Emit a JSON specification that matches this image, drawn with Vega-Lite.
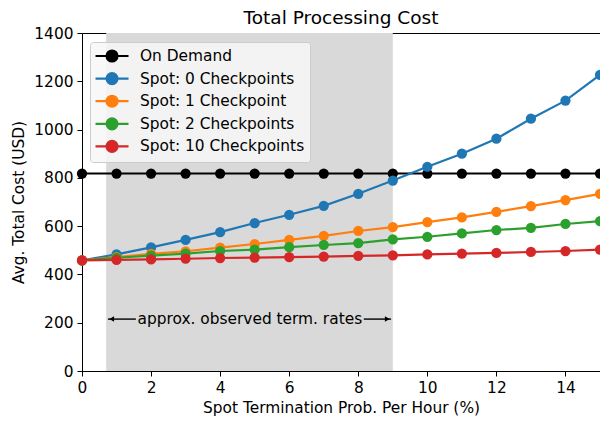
{
  "$schema": "https://vega.github.io/schema/vega-lite/v6.json",
  "width": 518,
  "height": 338,
  "autosize": {"type": "none"},
  "padding": {"left": 82, "top": 33, "right": 0, "bottom": 51},
  "background": "white",
  "title": {"text": "Total Processing Cost", "font": "DejaVu Sans", "fontSize": 18.5, "fontWeight": "normal", "color": "black", "offset": -1},
  "config": {
    "font": "DejaVu Sans",
    "view": {"stroke": "black", "strokeWidth": 1},
    "axis": {
      "domainColor": "black", "tickColor": "black", "labelColor": "black", "titleColor": "black",
      "labelFont": "DejaVu Sans", "titleFont": "DejaVu Sans",
      "labelFontSize": 15.4, "titleFontSize": 15.4, "titleFontWeight": "normal",
      "tickSize": 5, "labelPadding": 4, "titlePadding": 5, "grid": false, "domainWidth": 1, "format": "d",
      "labelFlush": false, "labelOverlap": false
    }
  },
  "datasets": {
    "series": [
      {"series": "On Demand", "x": 0, "cost": 818}, {"series": "On Demand", "x": 1, "cost": 818}, {"series": "On Demand", "x": 2, "cost": 818}, {"series": "On Demand", "x": 3, "cost": 818},
      {"series": "On Demand", "x": 4, "cost": 818}, {"series": "On Demand", "x": 5, "cost": 818}, {"series": "On Demand", "x": 6, "cost": 818}, {"series": "On Demand", "x": 7, "cost": 818},
      {"series": "On Demand", "x": 8, "cost": 818}, {"series": "On Demand", "x": 9, "cost": 818}, {"series": "On Demand", "x": 10, "cost": 818}, {"series": "On Demand", "x": 11, "cost": 818},
      {"series": "On Demand", "x": 12, "cost": 818}, {"series": "On Demand", "x": 13, "cost": 818}, {"series": "On Demand", "x": 14, "cost": 818}, {"series": "On Demand", "x": 15, "cost": 818},
      {"series": "Spot: 0 Checkpoints", "x": 0, "cost": 458}, {"series": "Spot: 0 Checkpoints", "x": 1, "cost": 483}, {"series": "Spot: 0 Checkpoints", "x": 2, "cost": 512}, {"series": "Spot: 0 Checkpoints", "x": 3, "cost": 543},
      {"series": "Spot: 0 Checkpoints", "x": 4, "cost": 575}, {"series": "Spot: 0 Checkpoints", "x": 5, "cost": 613}, {"series": "Spot: 0 Checkpoints", "x": 6, "cost": 647}, {"series": "Spot: 0 Checkpoints", "x": 7, "cost": 684},
      {"series": "Spot: 0 Checkpoints", "x": 8, "cost": 734}, {"series": "Spot: 0 Checkpoints", "x": 9, "cost": 789}, {"series": "Spot: 0 Checkpoints", "x": 10, "cost": 846}, {"series": "Spot: 0 Checkpoints", "x": 11, "cost": 900},
      {"series": "Spot: 0 Checkpoints", "x": 12, "cost": 962}, {"series": "Spot: 0 Checkpoints", "x": 13, "cost": 1045}, {"series": "Spot: 0 Checkpoints", "x": 14, "cost": 1120}, {"series": "Spot: 0 Checkpoints", "x": 15, "cost": 1227},
      {"series": "Spot: 1 Checkpoint", "x": 0, "cost": 458}, {"series": "Spot: 1 Checkpoint", "x": 1, "cost": 472}, {"series": "Spot: 1 Checkpoint", "x": 2, "cost": 485}, {"series": "Spot: 1 Checkpoint", "x": 3, "cost": 496},
      {"series": "Spot: 1 Checkpoint", "x": 4, "cost": 511}, {"series": "Spot: 1 Checkpoint", "x": 5, "cost": 526}, {"series": "Spot: 1 Checkpoint", "x": 6, "cost": 543}, {"series": "Spot: 1 Checkpoint", "x": 7, "cost": 560},
      {"series": "Spot: 1 Checkpoint", "x": 8, "cost": 580}, {"series": "Spot: 1 Checkpoint", "x": 9, "cost": 596}, {"series": "Spot: 1 Checkpoint", "x": 10, "cost": 617}, {"series": "Spot: 1 Checkpoint", "x": 11, "cost": 636},
      {"series": "Spot: 1 Checkpoint", "x": 12, "cost": 659}, {"series": "Spot: 1 Checkpoint", "x": 13, "cost": 683}, {"series": "Spot: 1 Checkpoint", "x": 14, "cost": 708}, {"series": "Spot: 1 Checkpoint", "x": 15, "cost": 734},
      {"series": "Spot: 2 Checkpoints", "x": 0, "cost": 458}, {"series": "Spot: 2 Checkpoints", "x": 1, "cost": 469}, {"series": "Spot: 2 Checkpoints", "x": 2, "cost": 478}, {"series": "Spot: 2 Checkpoints", "x": 3, "cost": 486},
      {"series": "Spot: 2 Checkpoints", "x": 4, "cost": 497}, {"series": "Spot: 2 Checkpoints", "x": 5, "cost": 503}, {"series": "Spot: 2 Checkpoints", "x": 6, "cost": 513}, {"series": "Spot: 2 Checkpoints", "x": 7, "cost": 522},
      {"series": "Spot: 2 Checkpoints", "x": 8, "cost": 530}, {"series": "Spot: 2 Checkpoints", "x": 9, "cost": 545}, {"series": "Spot: 2 Checkpoints", "x": 10, "cost": 556}, {"series": "Spot: 2 Checkpoints", "x": 11, "cost": 570},
      {"series": "Spot: 2 Checkpoints", "x": 12, "cost": 584}, {"series": "Spot: 2 Checkpoints", "x": 13, "cost": 593}, {"series": "Spot: 2 Checkpoints", "x": 14, "cost": 609}, {"series": "Spot: 2 Checkpoints", "x": 15, "cost": 621},
      {"series": "Spot: 10 Checkpoints", "x": 0, "cost": 458}, {"series": "Spot: 10 Checkpoints", "x": 1, "cost": 460}, {"series": "Spot: 10 Checkpoints", "x": 2, "cost": 462}, {"series": "Spot: 10 Checkpoints", "x": 3, "cost": 465},
      {"series": "Spot: 10 Checkpoints", "x": 4, "cost": 468}, {"series": "Spot: 10 Checkpoints", "x": 5, "cost": 470}, {"series": "Spot: 10 Checkpoints", "x": 6, "cost": 472}, {"series": "Spot: 10 Checkpoints", "x": 7, "cost": 474},
      {"series": "Spot: 10 Checkpoints", "x": 8, "cost": 477}, {"series": "Spot: 10 Checkpoints", "x": 9, "cost": 479}, {"series": "Spot: 10 Checkpoints", "x": 10, "cost": 483}, {"series": "Spot: 10 Checkpoints", "x": 11, "cost": 486},
      {"series": "Spot: 10 Checkpoints", "x": 12, "cost": 489}, {"series": "Spot: 10 Checkpoints", "x": 13, "cost": 493}, {"series": "Spot: 10 Checkpoints", "x": 14, "cost": 497}, {"series": "Spot: 10 Checkpoints", "x": 15, "cost": 503}
    ]
  },
  "layer": [
    {
      "data": {"values": [{"start": 0.7, "end": 9}]},
      "mark": {"type": "rect", "color": "#d9d9d9"},
      "encoding": {
        "x": {"field": "start", "type": "quantitative"},
        "x2": {"field": "end"}
      }
    },
    {
      "data": {"values": [{"a": 0.75, "b": 1.56, "y": 215}, {"a": 8.16, "b": 8.95, "y": 215}]},
      "mark": {"type": "rule", "color": "black", "strokeWidth": 1.4},
      "encoding": {
        "x": {"field": "a", "type": "quantitative"},
        "x2": {"field": "b"},
        "y": {"field": "y", "type": "quantitative"}
      }
    },
    {
      "data": {"values": [{"x": 0.86, "y": 215, "shape": "triangle-left"}, {"x": 8.84, "y": 215, "shape": "triangle-right"}]},
      "mark": {"type": "point", "filled": true, "color": "black", "size": 30, "opacity": 1},
      "encoding": {
        "x": {"field": "x", "type": "quantitative"},
        "y": {"field": "y", "type": "quantitative"},
        "shape": {"field": "shape", "type": "nominal", "scale": null, "legend": null}
      }
    },
    {
      "data": {"values": [{"x": 4.86, "y": 215, "label": "approx. observed term. rates"}]},
      "mark": {"type": "text", "fontSize": 15.4, "color": "black", "align": "center", "baseline": "middle", "font": "DejaVu Sans"},
      "encoding": {
        "x": {"field": "x", "type": "quantitative"},
        "y": {"field": "y", "type": "quantitative"},
        "text": {"field": "label"}
      }
    },
    {
      "data": {"name": "series"},
      "mark": {"type": "line", "strokeWidth": 2.2, "point": {"filled": true, "size": 105, "opacity": 1}},
      "encoding": {
        "x": {"field": "x", "type": "quantitative", "scale": {"domain": [0, 15], "nice": false}, "axis": {"values": [0, 2, 4, 6, 8, 10, 12, 14], "title": "Spot Termination Prob. Per Hour (%)"}},
        "y": {"field": "cost", "type": "quantitative", "scale": {"domain": [0, 1400], "nice": false}, "axis": {"values": [0, 200, 400, 600, 800, 1000, 1200, 1400], "title": "Avg. Total Cost (USD)", "titlePadding": 7}},
        "color": {
          "field": "series", "type": "nominal",
          "scale": {"domain": ["On Demand", "Spot: 0 Checkpoints", "Spot: 1 Checkpoint", "Spot: 2 Checkpoints", "Spot: 10 Checkpoints"], "range": ["#000000", "#1f77b4", "#ff7f0e", "#2ca02c", "#d62728"]},
          "legend": {
            "title": null, "orient": "none", "legendX": 8, "legendY": 9,
            "symbolType": "M -1.13 0 L 3.27 0 M 1.8 0 A 0.73 0.73 0 1 1 0.34 0 A 0.73 0.73 0 1 1 1.8 0 Z",
            "symbolSize": 225, "symbolStrokeWidth": 2.2, "symbolOpacity": 1,
            "labelFontSize": 15.4, "labelFont": "DejaVu Sans", "labelColor": "black", "labelLimit": 400,
            "rowPadding": 2.6, "labelOffset": 27,
            "fillColor": "rgba(247,247,247,0.85)", "strokeColor": "#cccccc", "cornerRadius": 3, "padding": 5
          }
        },
        "order": {"field": "x"}
      }
    }
  ]
}
